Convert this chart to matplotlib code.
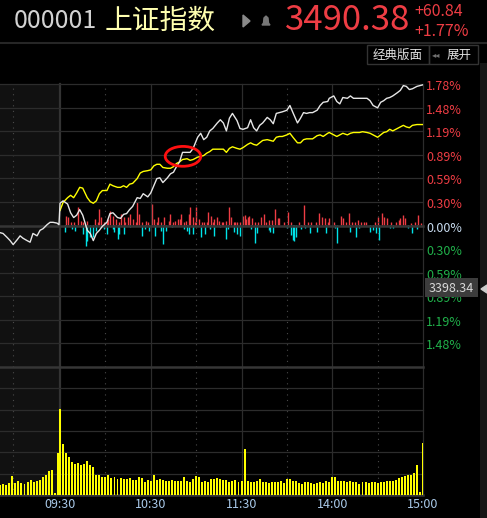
import matplotlib.pyplot as plt
import matplotlib.transforms as mtransforms
from matplotlib.patches import Ellipse, Rectangle, Polygon, Circle
from matplotlib.lines import Line2D
import numpy as np

plt.rcParams['font.family'] = ['Noto Sans CJK SC', 'DejaVu Sans']

# ---- data (percent change vs previous close 3429.54) ----
prev_close = 3429.54
last_price = 3490.38

# call-auction / pre-open segment (minutes before 09:30)
pre_min = [-39.7, -37.7, -35, -33, -31, -28.4, -26.4, -24.5, -21.8, -19.8,
           -17.9, -15.2, -13.2, -11.2, -8.6, -6.6, -4.6, -2, -0.7]
pre_white = [-0.09, -0.10, -0.15, -0.19, -0.24, -0.18, -0.13, -0.16, -0.19, -0.21,
             -0.10, -0.13, -0.06, -0.04, 0.01, 0.04, 0.04, 0.03, 0.01]

# minutes after 09:30 (11:30/13:00 joined at 120)
minutes = [0, 2, 5, 7, 9, 11, 13, 15, 18, 20,
           22, 24, 26, 28, 31, 33, 35, 38, 40, 42,
           44, 46, 48, 51, 53, 55, 58, 60, 62, 64,
           66, 68, 71, 73, 75, 77, 79, 81, 84, 86,
           88, 91, 93, 95, 97, 99, 101, 104, 106, 108,
           110, 112, 114, 117, 119, 121, 124, 126, 128, 130,
           132, 134, 137, 139, 141, 143, 145, 147, 150, 152,
           154, 157, 159, 161, 163, 165, 167, 170, 172, 174,
           177, 178, 181, 183, 185, 187, 190, 192, 194, 196,
           198, 200, 203, 205, 207, 210, 212, 214, 216, 218,
           220, 223, 225, 227, 229, 231, 233, 236, 238, 240]

index_pct = [0.28, 0.31, 0.27, 0.16, 0.10, 0.13, 0.20, 0.13, -0.06, -0.10,
             -0.19, -0.10, -0.06, -0.01, 0.04, 0.15, 0.16, 0.10, 0.09, 0.14,
             0.15, 0.20, 0.24, 0.35, 0.34, 0.40, 0.36, 0.41, 0.50, 0.59,
             0.60, 0.54, 0.60, 0.65, 0.67, 0.74, 0.80, 0.92, 0.92, 0.92,
             0.97, 1.11, 1.16, 1.08, 1.11, 1.19, 1.22, 1.29, 1.33, 1.29,
             1.19, 1.35, 1.41, 1.32, 1.22, 1.21, 1.23, 1.33, 1.23, 1.19,
             1.26, 1.29, 1.36, 1.33, 1.28, 1.41, 1.42, 1.43, 1.45, 1.51,
             1.42, 1.29, 1.35, 1.42, 1.41, 1.42, 1.42, 1.45, 1.51, 1.55,
             1.56, 1.60, 1.63, 1.56, 1.53, 1.61, 1.60, 1.63, 1.60, 1.60,
             1.60, 1.60, 1.60, 1.57, 1.51, 1.48, 1.55, 1.57, 1.60, 1.61,
             1.63, 1.67, 1.70, 1.76, 1.75, 1.71, 1.72, 1.75, 1.76, 1.77]

leader_pct = [0.19, 0.29, 0.35, 0.38, 0.35, 0.41, 0.48, 0.47, 0.35, 0.30,
              0.28, 0.31, 0.40, 0.44, 0.44, 0.52, 0.50, 0.48, 0.48, 0.50,
              0.48, 0.52, 0.53, 0.59, 0.66, 0.68, 0.69, 0.70, 0.75, 0.77,
              0.77, 0.73, 0.72, 0.72, 0.74, 0.78, 0.80, 0.83, 0.84, 0.82,
              0.83, 0.86, 0.87, 0.88, 0.91, 0.93, 0.96, 0.96, 0.96, 0.96,
              0.92, 0.97, 0.99, 0.97, 0.96, 0.98, 1.02, 1.04, 1.02, 1.01,
              1.04, 1.07, 1.08, 1.07, 1.06, 1.11, 1.12, 1.12, 1.14, 1.16,
              1.11, 1.04, 1.04, 1.08, 1.09, 1.09, 1.09, 1.13, 1.14, 1.12,
              1.16, 1.17, 1.14, 1.12, 1.14, 1.16, 1.14, 1.16, 1.17, 1.17,
              1.17, 1.18, 1.17, 1.16, 1.14, 1.11, 1.14, 1.17, 1.18, 1.21,
              1.19, 1.22, 1.24, 1.26, 1.24, 1.23, 1.26, 1.27, 1.27, 1.27]

# red / cyan strength bars around the zero line
buy_min = [4, 5, 7, 9, 12, 14, 15, 18, 23, 25, 26, 27, 29, 31, 32, 33, 35, 37, 39, 40,
           42, 43, 45, 46, 48, 50, 51, 52, 54, 57, 58, 61, 62, 64, 65, 67, 69, 72, 73, 75,
           76, 78, 79, 80, 82, 83, 85, 86, 88, 89, 90, 92, 94, 95, 97, 98, 100, 101, 102, 104,
           105, 107, 108, 110, 112, 113, 115, 116, 117, 119, 121, 122, 123, 124, 125, 127, 129, 131, 133, 135,
           136, 138, 140, 142, 144, 145, 148, 151, 153, 158, 161, 164, 166, 169, 171, 173, 175, 177, 178, 181,
           186, 187, 189, 191, 193, 195, 197, 199, 201, 202, 208, 210, 213, 214, 216, 219, 222, 224, 225, 227,
           228, 232, 235, 237, 239]
buy_val = [9, 8, 3, 3, 18, 4, 3, 4, 6, 3, 16, 8, 3, 3, 6, 14, 9, 6, 3, 11,
           8, 3, 8, 11, 6, 3, 23, 11, 3, 4, 3, 21, 6, 3, 8, 3, 8, 4, 11, 3,
           4, 6, 6, 11, 3, 4, 11, 18, 8, 3, 18, 6, 3, 3, 3, 13, 9, 3, 6, 8,
           4, 3, 3, 4, 18, 8, 3, 3, 3, 3, 9, 10, 6, 8, 9, 7, 3, 3, 8, 11,
           3, 5, 5, 16, 7, 7, 3, 13, 3, 3, 20, 3, 3, 3, 12, 8, 7, 3, 7, 3,
           9, 7, 3, 12, 3, 3, 5, 3, 3, 3, 3, 8, 12, 8, 7, 3, 3, 5, 7, 10,
           7, 2, 3, 10, 2]
sell_min = [3, 8, 10, 15, 17, 18, 20, 22, 24, 27, 29, 31, 35, 36, 38, 39, 42, 46, 54, 56,
            59, 63, 67, 68, 70, 74, 82, 84, 85, 88, 93, 96, 99, 102, 106, 110, 111, 115, 117, 119,
            126, 129, 130, 138, 139, 141, 150, 153, 154, 155, 156, 159, 162, 165, 170, 176, 182, 183, 192, 196,
            198, 205, 207, 209, 211, 218, 220, 230, 233, 236]
sell_val = [7, 4, 6, 9, 21, 16, 12, 12, 6, 2, 4, 9, 4, 7, 14, 9, 9, 2, 11, 4,
            6, 11, 6, 19, 6, 2, 4, 6, 9, 9, 12, 9, 4, 11, 2, 14, 4, 7, 9, 11,
            4, 18, 8, 5, 7, 8, 3, 10, 15, 16, 12, 4, 3, 8, 7, 8, 3, 18, 7, 12,
            3, 7, 5, 8, 15, 3, 3, 3, 8, 4]

# volume
pre_vol_min = np.arange(-39.5, 0, 2)
pre_vol = [10, 11, 10, 12, 19, 12, 14, 12, 11, 13,
           15, 13, 14, 15, 18, 20, 24, 25, 2, 42]
vol_min = np.arange(0, 241, 2)
vol = [86, 51, 42, 38, 33, 31, 32, 30, 31, 34,
       30, 28, 20, 20, 18, 18, 20, 17, 18, 16,
       17, 16, 16, 17, 15, 15, 18, 17, 13, 15,
       14, 20, 15, 16, 15, 14, 14, 15, 14, 14,
       14, 18, 14, 13, 16, 19, 18, 13, 14, 13,
       16, 16, 17, 16, 15, 15, 13, 14, 15, 13,
       14, 46,
       14, 13, 13, 14, 16, 13, 13, 12, 13, 13,
       13, 14, 12, 16, 16, 14, 14, 12, 11, 13,
       13, 12, 11, 12, 13, 12, 14, 13, 18, 18,
       14, 14, 14, 13, 14, 13, 13, 11, 13, 13,
       12, 13, 13, 12, 13, 13, 14, 14, 14, 15,
       17, 18, 19, 20, 20, 22, 30, 3, 52]

time_ticks = [0, 60, 120, 180, 240]
time_labels = ['09:30', '10:30', '11:30', '14:00', '15:00']
dotted_ticks = [-31, 30, 90, 150, 210]
pct_max = 1.78
hover_price = 3398.34

# ---- figure ----
W, H = 487, 518
fig = plt.figure(figsize=(W / 100, H / 100), dpi=100, facecolor='black')


def fx(px):
    return px / W


def fy(py):
    return 1 - py / H


red = '#ee3d44'
green = '#20b04a'
grid = '#2c2c2c'
xmin = -39.7

ax = fig.add_axes([0, fy(367), fx(423), (367 - 84) / H])
axf = ax.twinx()
axv = fig.add_axes([0, fy(495), fx(423), (495 - 367) / H])

for a in (ax, axf, axv):
    a.set_facecolor('black')
    for s in a.spines.values():
        s.set_visible(False)
    a.set_yticks([])
    a.set_xlim(xmin, 240)
ax.set_xticks([])
ax.set_zorder(2)
axf.set_zorder(1)
ax.patch.set_visible(False)
ax.set_ylim(-pct_max, pct_max)
axf.set_ylim(-141.5, 141.5)
axv.set_ylim(0, 128)

# backgrounds and grid
for a in (ax, axv):
    a.axvspan(xmin, 0, color='#111111', zorder=0, lw=0)
    for m in time_ticks:
        a.axvline(m, color='#333333' if m == 0 else grid,
                  lw=1.6 if m == 0 else 0.9, zorder=1, clip_on=False)
    for m in dotted_ticks:
        a.axvline(m, color='#4a4a4a', lw=0.8, ls=(0, (1, 4)), zorder=1)

step = pct_max / 6
for k in range(-6, 7):
    thick = k in (0, -6)
    ax.axhline(k * step, color='#363636' if thick else grid,
               lw=1.8 if thick else 0.9, zorder=1, clip_on=False)
for k in range(0, 6):
    axv.axhline(k * 128 / 6, color='#363636' if k == 0 else grid,
                lw=1.8 if k == 0 else 0.9, zorder=1, clip_on=False)

# strength bars
axf.vlines(buy_min, 0, buy_val, color=red, lw=1.0)
axf.vlines(sell_min, 0, [-v for v in sell_val], color='#00e3e8', lw=1.0)

# price lines
ax.plot(pre_min + minutes, pre_white + index_pct, color='#e6e6e6', lw=1.0, zorder=4)
ax.plot(minutes, leader_pct, color='#ffff00', lw=1.0, zorder=3)
ax.add_patch(Ellipse((81.3, 0.87), 23.5, 0.25, fill=False,
                     edgecolor='#ff1010', lw=2.0, zorder=5))

# right-side percent labels
lab_tr = mtransforms.offset_copy(ax.get_yaxis_transform(), fig=fig, x=3, y=-2.5, units='dots')
for k in range(-5, 7):
    v = k * step
    c = red if k > 0 else (green if k < 0 else '#c8dcf0')
    ax.text(1.0, v, f'{abs(v):.2f}%', transform=lab_tr, color=c, fontsize=9,
            ha='left', va='center', clip_on=False)

# volume bars
axv.bar(pre_vol_min, pre_vol, width=1.3, color='#ffff00', lw=0, zorder=2)
axv.bar(vol_min, vol, width=1.3, color='#ffff00', lw=0, zorder=2)
axv.set_xticks(time_ticks, time_labels)
axv.tick_params(axis='x', length=0, pad=2, labelsize=9, labelcolor='#a8c8e8')

# header
fig.add_artist(Line2D([0, 1], [fy(43), fy(43)], color='#262626', lw=1.5))
fig.text(fx(14), fy(21), '000001', color='#d2d2d2', fontsize=18, va='center', ha='left')
fig.text(fx(105), fy(21), '上证指数', color='#ffffb0', fontsize=20, va='center', ha='left')
fig.add_artist(Polygon([(fx(243), fy(15)), (fx(243), fy(27)), (fx(250), fy(21))],
                       closed=True, color='#8a8a8a'))
fig.add_artist(Polygon([(fx(262), fy(25)), (fx(263.5), fy(23)), (fx(264), fy(18)),
                        (fx(266), fy(16)), (fx(268), fy(18)), (fx(268.5), fy(23)),
                        (fx(270), fy(25))], closed=True, color='#777777'))
fig.text(fx(285), fy(21), f'{last_price:.2f}', color=red, fontsize=25, va='center', ha='left')
chg = last_price - prev_close
fig.text(fx(414), fy(12), f'+{chg:.2f}', color=red, fontsize=11.5, va='center', ha='left')
fig.text(fx(414), fy(32), f'+{chg / prev_close * 100:.2f}%', color=red, fontsize=11.5,
         va='center', ha='left')

# buttons
fig.add_artist(Rectangle((fx(367), fy(64)), fx(62), (64 - 45) / H, fill=False,
                         edgecolor='#333333', lw=1))
fig.add_artist(Rectangle((fx(429), fy(64)), fx(49), (64 - 45) / H, fill=False,
                         edgecolor='#333333', lw=1))
fig.text(fx(398), fy(55), '经典版面', color='#e0e0e0', fontsize=9, ha='center', va='center')
fig.text(fx(436), fy(55), '◂◂', color='#707070', fontsize=6, ha='center', va='center',
         family=['DejaVu Sans'])
fig.text(fx(459), fy(55), '展开', color='#e0e0e0', fontsize=9, ha='center', va='center')

# scrollbar and hover price tag
fig.add_artist(Rectangle((fx(480), 0), fx(7), fy(63), color='#161616', lw=0))
fig.add_artist(Polygon([(fx(481), fy(289)), (fx(487), fy(285)), (fx(487), fy(293))],
                       closed=True, color='#cccccc'))
fig.add_artist(Rectangle((fx(425), fy(297)), fx(53), 19 / H, color='#3c3c3c', lw=0, zorder=3))
fig.text(fx(451), fy(288), f'{hover_price:.2f}', color='#d8d8d8', fontsize=9,
         ha='center', va='center', zorder=4)

fig.savefig('out.png', dpi=100, facecolor='black')
